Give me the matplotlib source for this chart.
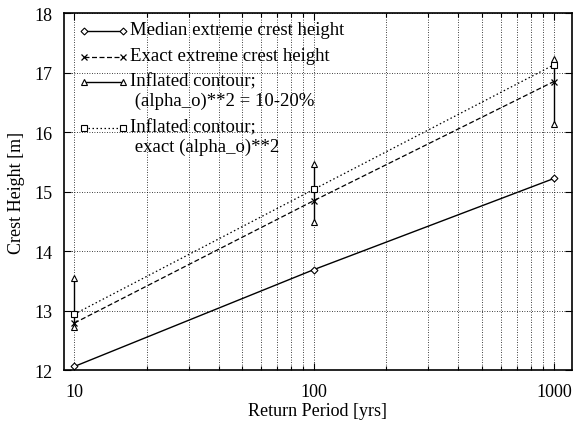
import numpy as np
import matplotlib.pyplot as plt
from matplotlib.lines import Line2D
from matplotlib.ticker import LogLocator, FixedLocator, NullFormatter

plt.rcParams['font.family'] = ['Liberation Serif', 'DejaVu Serif']
plt.rcParams['font.size'] = 13

# data
periods = [10, 100, 1000]
median_crest = [12.06, 13.69, 15.22]
exact_crest = [12.79, 14.85, 16.85]
inflated_lo = [12.73, 14.49, 16.13]
inflated_hi = [13.55, 15.47, 17.23]
exact_alpha = [12.94, 15.04, 17.13]

legend_labels = [
    "Median extreme crest height",
    "Exact extreme crest height",
    "Inflated contour;\n (alpha_o)**2 = 10-20%",
    "Inflated contour;\n exact (alpha_o)**2",
]

fig = plt.figure(figsize=(5.76, 4.27), dpi=100)
ax = fig.add_axes([0.111, 0.131, 0.882, 0.836])

mk = dict(markerfacecolor='white', markeredgecolor='black', markeredgewidth=0.8)
ax.plot(periods, median_crest, color='black', lw=1.0, marker='D', markersize=3.5, **mk)
ax.plot(periods, exact_crest, color='black', lw=0.9, ls=(0, (4, 2)), marker='x',
        markersize=5, markeredgewidth=0.9, markeredgecolor='black')
ax.vlines(periods, inflated_lo, inflated_hi, color='black', lw=1.0)
ax.plot(periods, inflated_lo, ls='none', marker='^', markersize=5, **mk)
ax.plot(periods, inflated_hi, ls='none', marker='^', markersize=5, **mk)
ax.plot(periods, exact_alpha, color='black', lw=0.9, ls=(0, (1.2, 2)), marker='s',
        markersize=5, **mk)

ax.set_xscale('log')
ax.set_xlim(9.05, 1190)
ax.set_ylim(12, 18)
ax.xaxis.set_major_locator(FixedLocator([10, 100, 1000]))
ax.xaxis.set_minor_locator(LogLocator(base=10, subs=np.arange(2, 10)))
ax.xaxis.set_minor_formatter(NullFormatter())
ax.set_xticklabels(['10', '100', '1000'])
ax.set_yticks(range(12, 19))
ax.tick_params(which='both', direction='in', top=True, right=True, labelsize=13)
ax.tick_params(which='major', length=5, width=0.8)
ax.tick_params(which='minor', length=3, width=0.8)
ax.tick_params(axis='y', pad=8)
ax.tick_params(axis='x', pad=9)
ax.grid(True, which='both', axis='x', color='black', ls=(0, (1, 2)), lw=0.6)
ax.grid(True, which='major', axis='y', color='black', ls=(0, (1, 2)), lw=0.6)
for s in ax.spines.values():
    s.set_linewidth(1.2)

ax.set_xlabel('Return Period [yrs]', fontsize=13)
ax.set_ylabel('Crest Height [m]', fontsize=13)
ax.xaxis.set_label_coords(0.5, -0.09)
ax.yaxis.set_label_coords(-0.077, 0.5)

# legend drawn by hand (gnuplot style, handle aligned with first line)
tr = ax.transAxes
x0, x1, xt = 0.04, 0.116, 0.13
rows = [0.95, 0.877, 0.807, 0.677]
styles = [
    dict(ls='-', lw=1.0, marker='D', markersize=3.5, **mk),
    dict(ls=(0, (4, 2)), lw=0.9, marker='x', markersize=5, markeredgewidth=0.9, markeredgecolor='black'),
    dict(ls='-', lw=1.0, marker='^', markersize=5, **mk),
    dict(ls=(0, (1.2, 2)), lw=0.9, marker='s', markersize=5, **mk),
]
for y, lab, st in zip(rows, legend_labels, styles):
    ax.add_line(Line2D([x0, x1], [y, y], transform=tr, color='black', **st))
    ax.text(xt, y + 0.027, lab, transform=tr, ha='left', va='top',
            fontsize=13.5, linespacing=1.15)

fig.savefig('out.png', dpi=100)
